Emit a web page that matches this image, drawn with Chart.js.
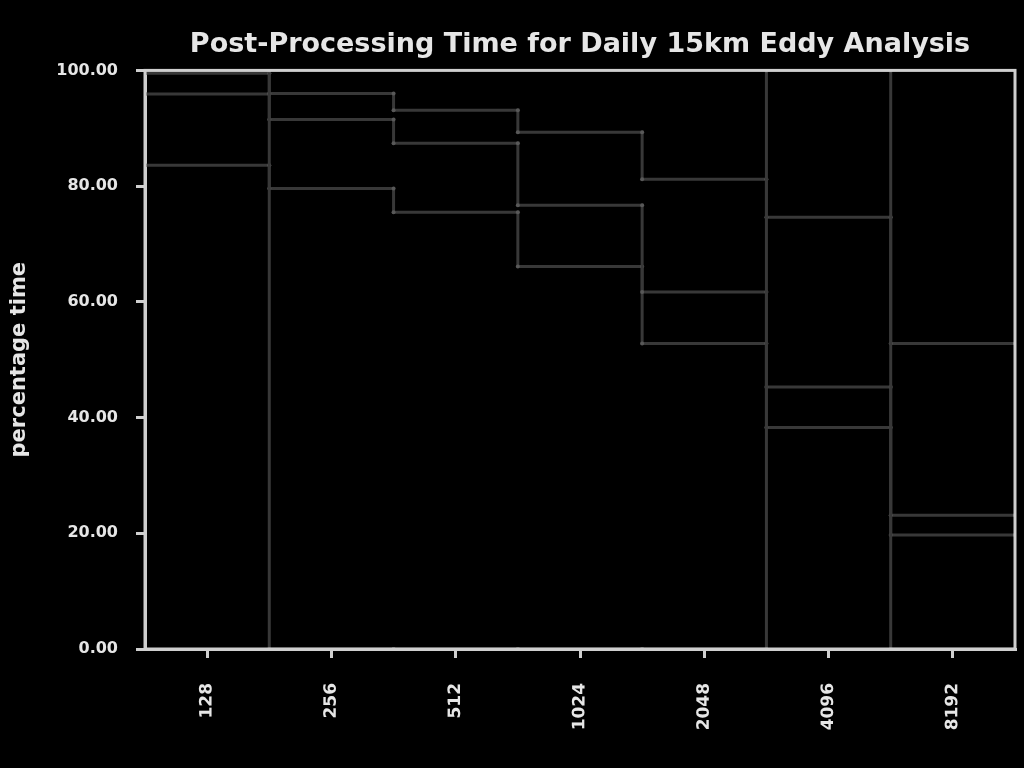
<!DOCTYPE html>
<html>
<head>
<meta charset="utf-8">
<script src="https://cdn.jsdelivr.net/npm/chart.js@4/dist/chart.umd.min.js"></script>
<style>
  html, body { margin: 0; padding: 0; background: #000; }
  #wrap { width: 1024px; height: 768px; }
</style>
</head>
<body>
<div id="wrap"><canvas id="c" width="1024" height="768"></canvas></div>
<script>
// Categories (x tick labels)
const categories = ['128', '256', '512', '1024', '2048', '4096', '8192'];
// Y tick values
const yTicks = [0, 20, 40, 60, 80, 100];
// Series values (percentage time), one value per category
const seriesA = [99.5, 96.0, 93.1, 89.3, 81.2, 74.6, 52.8];
const seriesB = [95.9, 91.5, 87.4, 76.7, 61.7, 45.3, 23.1];
const seriesC = [83.6, 79.6, 75.5, 66.1, 52.8, 38.3, 19.7];
const seriesD = [100, 0, 0, 0, 0, 100, 0];

function stepPoints(values) {
  const pts = [];
  values.forEach((v, i) => { pts.push({ x: i, y: v }); pts.push({ x: i + 1, y: v }); });
  return pts;
}

const lineColor = '#383838';
const pointColor = '#585858';
const textColor = '#e6e6e6';
const axisColor = '#cfcfcf';

function ds(values) {
  return {
    data: stepPoints(values),
    showLine: true,
    borderColor: lineColor,
    borderWidth: 3,
    pointRadius: 2,
    pointBackgroundColor: pointColor,
    pointBorderWidth: 0,
    fill: false,
    tension: 0
  };
}

const frame = {
  id: 'frame',
  afterDraw(chart) {
    const { ctx, chartArea: a } = chart;
    ctx.save();
    ctx.strokeStyle = axisColor;
    ctx.lineWidth = 3;
    ctx.strokeRect(a.left, a.top, a.right - a.left, a.bottom - a.top);
    ctx.restore();
  }
};

new Chart(document.getElementById('c'), {
  type: 'scatter',
  data: { datasets: [ds(seriesD), ds(seriesA), ds(seriesB), ds(seriesC)] },
  plugins: [frame],
  options: {
    responsive: false,
    devicePixelRatio: 1,
    animation: false,
    layout: { padding: { left: 7, right: 9, top: 0, bottom: 0 } },
    plugins: {
      legend: { display: false },
      tooltip: { enabled: false },
      title: {
        display: true,
        fullSize: false,
        text: 'Post-Processing Time for Daily 15km Eddy Analysis',
        color: textColor,
        font: { family: 'DejaVu Sans', size: 27, weight: 'bold' },
        padding: { top: 29, bottom: 9 }
      }
    },
    scales: {
      x: {
        type: 'linear',
        min: 0,
        max: categories.length,
        afterBuildTicks(scale) {
          scale.ticks = categories.map((_, i) => ({ value: i + 0.5 }));
        },
        afterFit(scale) { scale.height = 119; },
        ticks: {
          color: textColor,
          font: { family: 'DejaVu Sans', size: 17, weight: 'bold' },
          minRotation: 89.9,
          maxRotation: 89.9,
          padding: 25,
          autoSkip: false,
          callback: (v) => categories[Math.round(v - 0.5)]
        },
        grid: { drawOnChartArea: false, drawTicks: true, tickLength: 9, color: axisColor, lineWidth: 3 },
        border: { display: true, color: axisColor, width: 3 }
      },
      y: {
        min: 0,
        max: 100,
        afterBuildTicks(scale) {
          scale.ticks = yTicks.map(v => ({ value: v }));
        },
        afterFit(scale) { scale.width = 138; },
        title: {
          display: true,
          text: 'percentage time',
          color: textColor,
          font: { family: 'DejaVu Sans', size: 21, weight: 'bold' },
          padding: { top: 0, bottom: 0 }
        },
        ticks: {
          color: textColor,
          font: { family: 'DejaVu Sans', size: 16, weight: 'bold' },
          padding: 18,
          callback: (v) => Number(v).toFixed(2)
        },
        grid: { drawOnChartArea: false, drawTicks: true, tickLength: 9, color: axisColor, lineWidth: 3 },
        border: { display: true, color: axisColor, width: 3 }
      }
    }
  }
});
</script>
</body>
</html>
